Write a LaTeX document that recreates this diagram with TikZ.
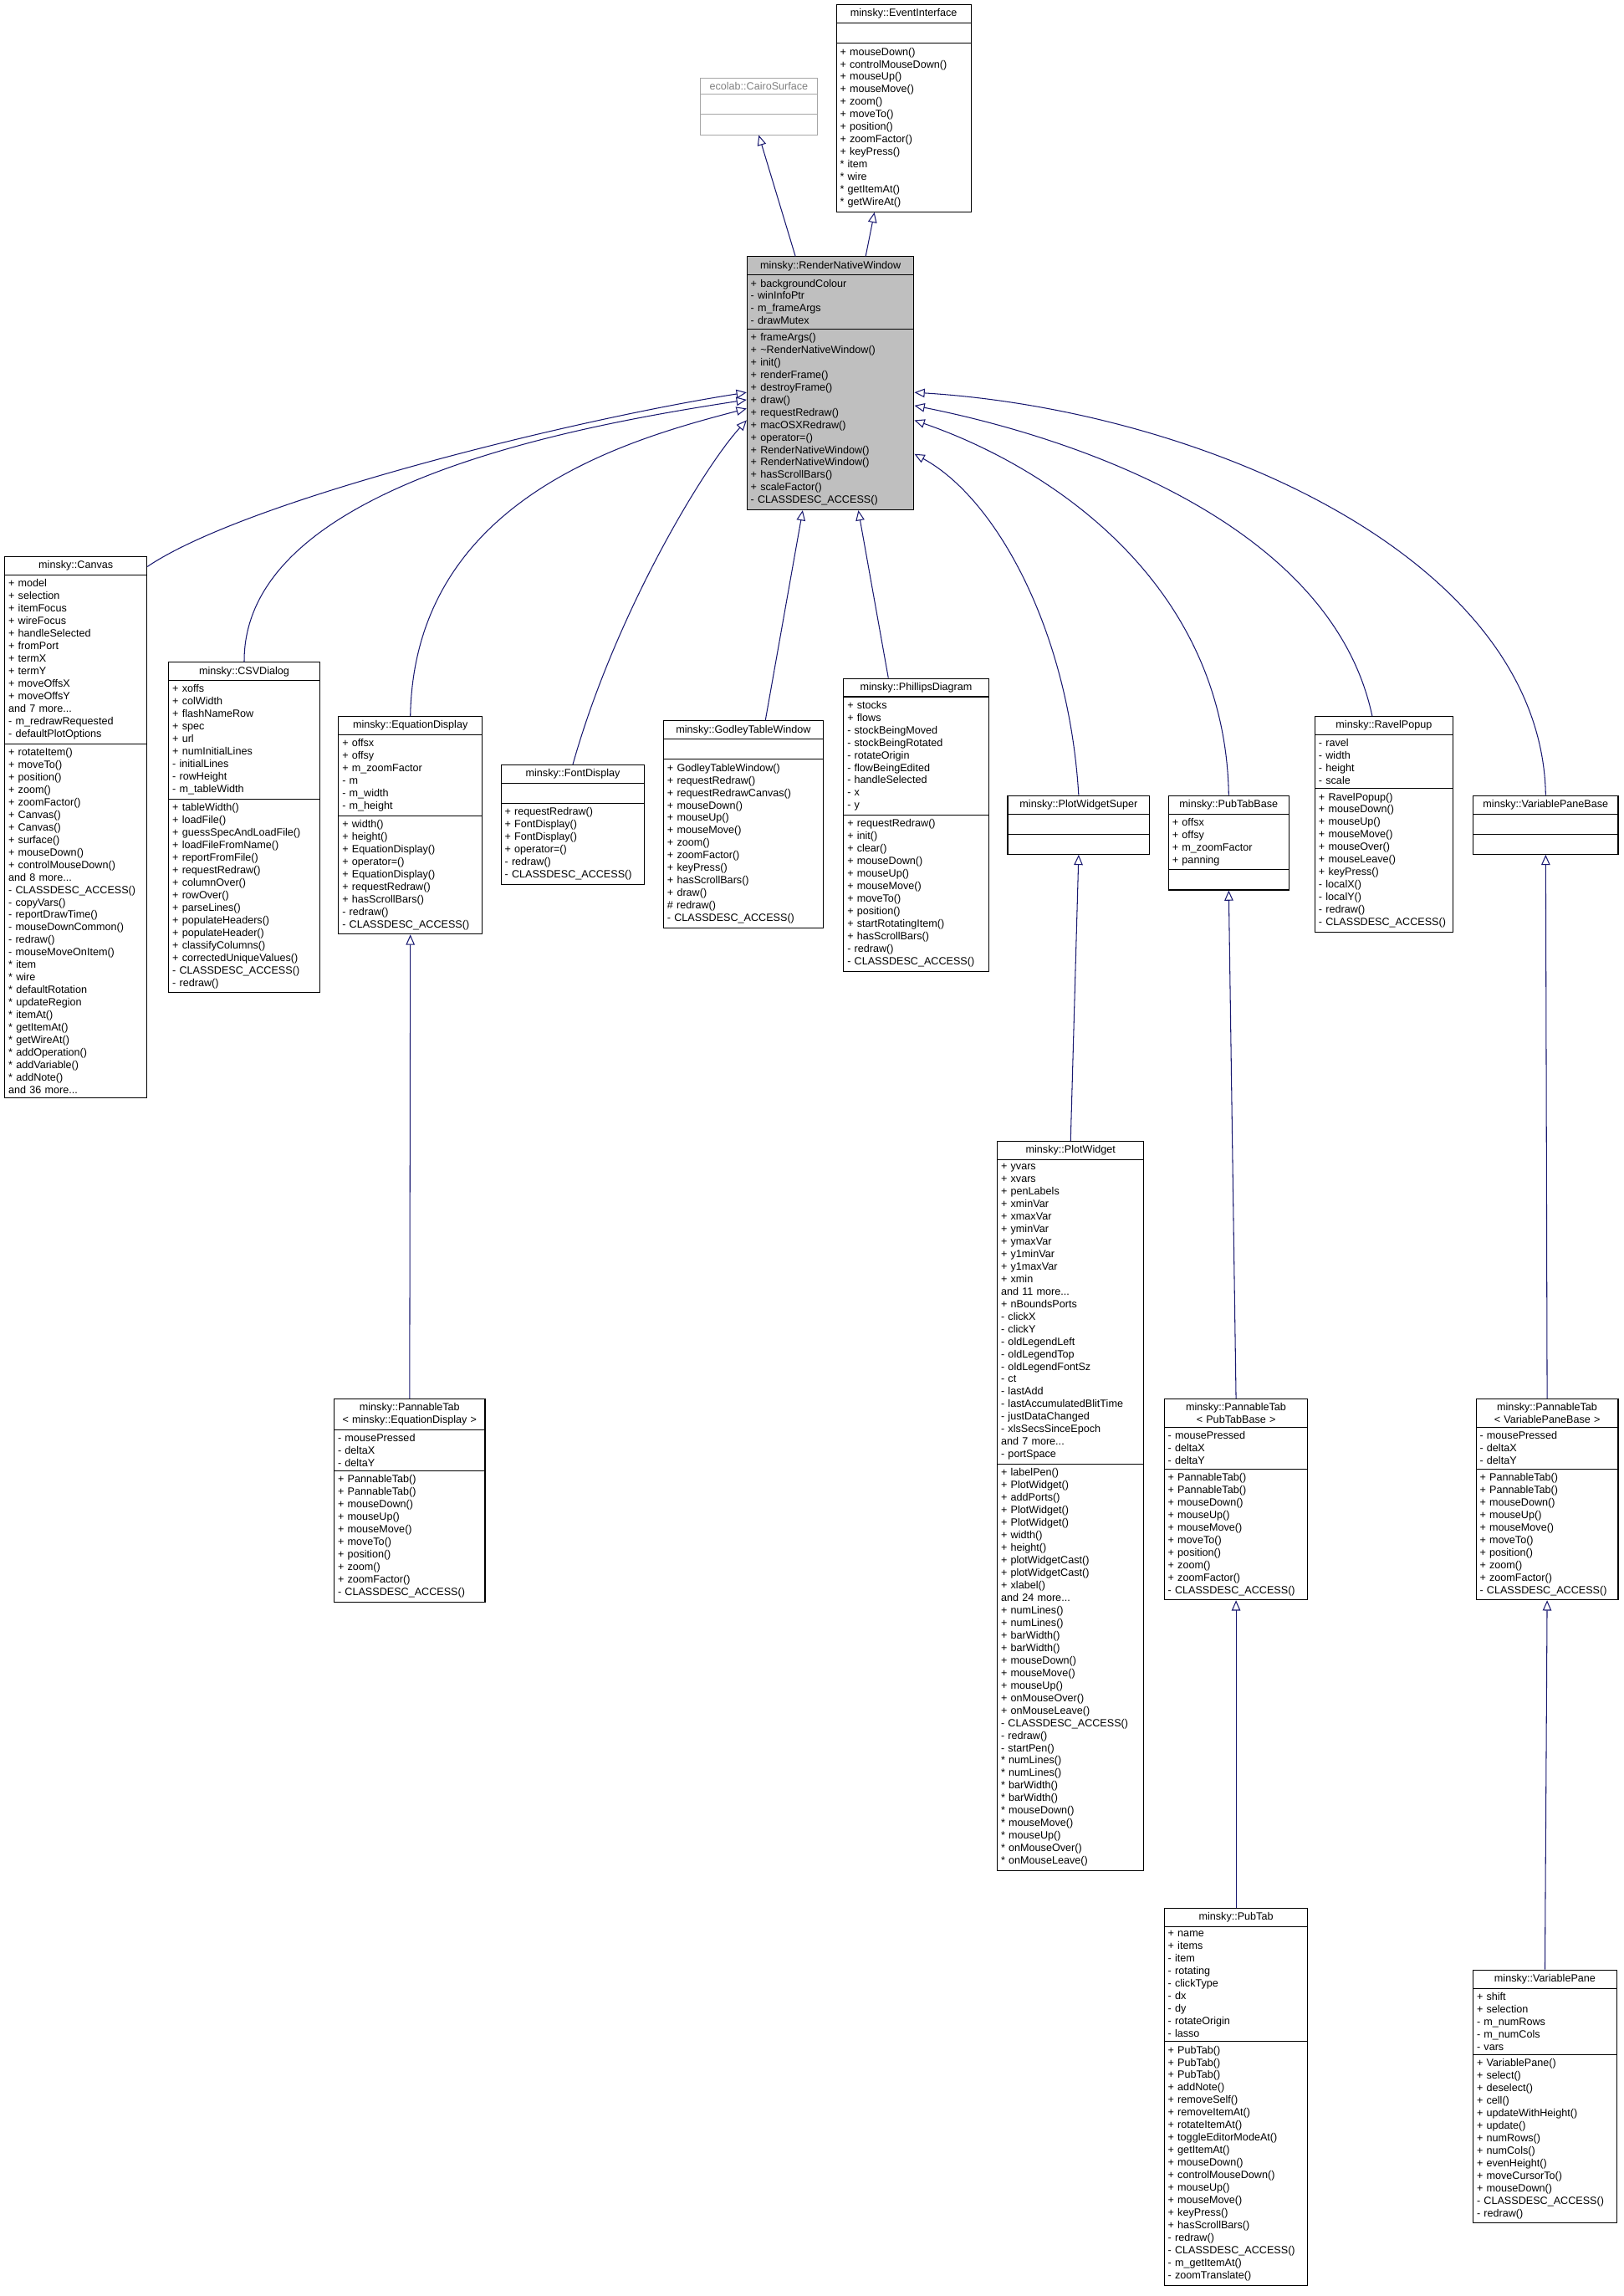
\documentclass[tikz,border=0pt]{standalone}
\usepackage{fontspec}
\setmainfont{Liberation Sans}
\usetikzlibrary{shapes.multipart,arrows.meta,calc}
\definecolor{edge}{HTML}{191970}
\tikzset{
 cbox/.style={draw=black,line width=0.6pt,rectangle split,rectangle split parts=3,anchor=north west,inner xsep=2.5pt,inner ysep=2.6pt,align=left,font=\fontsize{7.2}{8.55}\selectfont},
 inh/.style={draw=edge,line width=0.6pt,-{Triangle[open,length=7pt,width=6pt]}}
}
\newcommand\cls[8]{\node[cbox,#5,text width=#4pt] (#1) at (#2,#3) {{\centering #6\par}\nodepart{two}#7\nodepart{three}#8};}
\def\E{\rule{0pt}{8pt}}
\def\CA{CLASSDESC\_ACCESS()}
\begin{document}
\begin{tikzpicture}[x=1pt,y=-1pt]
\useasboundingbox (0,0) rectangle (1109,1568);
\cls{cairo}{478}{53}{75}{draw=gray!70,text=gray}{ecolab::CairoSurface}{\E}{\E}
\cls{ev}{571}{3}{87}{}{minsky::EventInterface}{\E}{+ mouseDown()\\+ controlMouseDown()\\+ mouseUp()\\+ mouseMove()\\+ zoom()\\+ moveTo()\\+ position()\\+ zoomFactor()\\+ keyPress()\\{}* item\\{}* wire\\{}* getItemAt()\\{}* getWireAt()}
\cls{rnw}{510}{175}{109}{fill=black!25}{minsky::RenderNativeWindow}{+ backgroundColour\\- winInfoPtr\\- m\_frameArgs\\- drawMutex}{+ frameArgs()\\+ \textasciitilde RenderNativeWindow()\\+ init()\\+ renderFrame()\\+ destroyFrame()\\+ draw()\\+ requestRedraw()\\+ macOSXRedraw()\\+ operator=()\\+ RenderNativeWindow()\\+ RenderNativeWindow()\\+ hasScrollBars()\\+ scaleFactor()\\- \CA}
\cls{canvas}{3}{380}{92}{}{minsky::Canvas}{+ model\\+ selection\\+ itemFocus\\+ wireFocus\\+ handleSelected\\+ fromPort\\+ termX\\+ termY\\+ moveOffsX\\+ moveOffsY\\and 7 more...\\- m\_redrawRequested\\- defaultPlotOptions}{+ rotateItem()\\+ moveTo()\\+ position()\\+ zoom()\\+ zoomFactor()\\+ Canvas()\\+ Canvas()\\+ surface()\\+ mouseDown()\\+ controlMouseDown()\\and 8 more...\\- \CA\\- copyVars()\\- reportDrawTime()\\- mouseDownCommon()\\- redraw()\\- mouseMoveOnItem()\\{}* item\\{}* wire\\{}* defaultRotation\\{}* updateRegion\\{}* itemAt()\\{}* getItemAt()\\{}* getWireAt()\\{}* addOperation()\\{}* addVariable()\\{}* addNote()\\and 36 more...}
\cls{csv}{115}{452}{98}{}{minsky::CSVDialog}{+ xoffs\\+ colWidth\\+ flashNameRow\\+ spec\\+ url\\+ numInitialLines\\- initialLines\\- rowHeight\\- m\_tableWidth}{+ tableWidth()\\+ loadFile()\\+ guessSpecAndLoadFile()\\+ loadFileFromName()\\+ reportFromFile()\\+ requestRedraw()\\+ columnOver()\\+ rowOver()\\+ parseLines()\\+ populateHeaders()\\+ populateHeader()\\+ classifyColumns()\\+ correctedUniqueValues()\\- \CA\\- redraw()}
\cls{eq}{231}{489}{93}{}{minsky::EquationDisplay}{+ offsx\\+ offsy\\+ m\_zoomFactor\\- m\\- m\_width\\- m\_height}{+ width()\\+ height()\\+ EquationDisplay()\\+ operator=()\\+ EquationDisplay()\\+ requestRedraw()\\+ hasScrollBars()\\- redraw()\\- \CA}
\cls{font}{342}{522}{93}{}{minsky::FontDisplay}{\E}{+ requestRedraw()\\+ FontDisplay()\\+ FontDisplay()\\+ operator=()\\- redraw()\\- \CA}
\cls{god}{453}{492}{104}{}{minsky::GodleyTableWindow}{\E}{+ GodleyTableWindow()\\+ requestRedraw()\\+ requestRedrawCanvas()\\+ mouseDown()\\+ mouseUp()\\+ mouseMove()\\+ zoom()\\+ zoomFactor()\\+ keyPress()\\+ hasScrollBars()\\+ draw()\\\# redraw()\\- \CA}
\cls{phil}{576}{463}{94}{}{minsky::PhillipsDiagram}{+ stocks\\+ flows\\- stockBeingMoved\\- stockBeingRotated\\- rotateOrigin\\- flowBeingEdited\\- handleSelected\\- x\\- y}{+ requestRedraw()\\+ init()\\+ clear()\\+ mouseDown()\\+ mouseUp()\\+ mouseMove()\\+ moveTo()\\+ position()\\+ startRotatingItem()\\+ hasScrollBars()\\- redraw()\\- \CA}
\cls{pws}{688}{543}{92}{}{minsky::PlotWidgetSuper}{\E}{\E}
\cls{ptb}{798}{543}{77}{}{minsky::PubTabBase}{+ offsx\\+ offsy\\+ m\_zoomFactor\\+ panning}{\E}
\cls{ravel}{898}{489}{89}{}{minsky::RavelPopup}{- ravel\\- width\\- height\\- scale}{+ RavelPopup()\\+ mouseDown()\\+ mouseUp()\\+ mouseMove()\\+ mouseOver()\\+ mouseLeave()\\+ keyPress()\\- localX()\\- localY()\\- redraw()\\- \CA}
\cls{vpb}{1006}{543}{94}{}{minsky::VariablePaneBase}{\E}{\E}
\def\PT{- mousePressed\\- deltaX\\- deltaY}
\def\PM{+ PannableTab()\\+ PannableTab()\\+ mouseDown()\\+ mouseUp()\\+ mouseMove()\\+ moveTo()\\+ position()\\+ zoom()\\+ zoomFactor()\\- \CA}
\cls{pteq}{228}{955}{98}{}{minsky::PannableTab\\\textless{} minsky::EquationDisplay \textgreater}{\PT}{\PM}
\cls{ptpub}{795}{955}{93}{}{minsky::PannableTab\\\textless{} PubTabBase \textgreater}{\PT}{\PM}
\cls{ptvp}{1008}{955}{92}{}{minsky::PannableTab\\\textless{} VariablePaneBase \textgreater}{\PT}{\PM}
\cls{pw}{681}{779}{95}{}{minsky::PlotWidget}{+ yvars\\+ xvars\\+ penLabels\\+ xminVar\\+ xmaxVar\\+ yminVar\\+ ymaxVar\\+ y1minVar\\+ y1maxVar\\+ xmin\\and 11 more...\\+ nBoundsPorts\\- clickX\\- clickY\\- oldLegendLeft\\- oldLegendTop\\- oldLegendFontSz\\- ct\\- lastAdd\\- lastAccumulatedBlitTime\\- justDataChanged\\- xlsSecsSinceEpoch\\and 7 more...\\- portSpace}{+ labelPen()\\+ PlotWidget()\\+ addPorts()\\+ PlotWidget()\\+ PlotWidget()\\+ width()\\+ height()\\+ plotWidgetCast()\\+ plotWidgetCast()\\+ xlabel()\\and 24 more...\\+ numLines()\\+ numLines()\\+ barWidth()\\+ barWidth()\\+ mouseDown()\\+ mouseMove()\\+ mouseUp()\\+ onMouseOver()\\+ onMouseLeave()\\- \CA\\- redraw()\\- startPen()\\{}* numLines()\\{}* numLines()\\{}* barWidth()\\{}* barWidth()\\{}* mouseDown()\\{}* mouseMove()\\{}* mouseUp()\\{}* onMouseOver()\\{}* onMouseLeave()}
\cls{pub}{795}{1303}{93}{}{minsky::PubTab}{+ name\\+ items\\- item\\- rotating\\- clickType\\- dx\\- dy\\- rotateOrigin\\\mbox{-}\ lasso}{+ PubTab()\\+ PubTab()\\+ PubTab()\\+ addNote()\\+ removeSelf()\\+ removeItemAt()\\+ rotateItemAt()\\+ toggleEditorModeAt()\\+ getItemAt()\\+ mouseDown()\\+ controlMouseDown()\\+ mouseUp()\\+ mouseMove()\\+ keyPress()\\+ hasScrollBars()\\- redraw()\\- \CA\\- m\_getItemAt()\\- zoomTranslate()}
\cls{vp}{1006}{1345}{93}{}{minsky::VariablePane}{+ shift\\+ selection\\- m\_numRows\\- m\_numCols\\- vars}{+ VariablePane()\\+ select()\\+ deselect()\\+ cell()\\+ updateWithHeight()\\+ update()\\+ numRows()\\+ numCols()\\+ evenHeight()\\+ moveCursorTo()\\+ mouseDown()\\- \CA\\- redraw()}
% edges
\draw[inh] ($(rnw.north)+(-24,0)$) -- (cairo.south);
\draw[inh] ($(rnw.north)+(24,0)$) -- ($(ev.south)+(-20,0)$);
\draw[inh] ($(canvas.north east)+(0,7)$) .. controls (170,340) and (400,285) .. ($(rnw.north west)+(0,93)$);
\draw[inh] (csv.north) .. controls (166,330) and (400,290) .. ($(rnw.north west)+(0,98)$);
\draw[inh] (eq.north) .. controls (283,340) and (430,300) .. ($(rnw.north west)+(0,104)$);
\draw[inh] (font.north) .. controls (420,420) and (480,320) .. ($(rnw.north west)+(0,112)$);
\draw[inh] ($(god.north)+(15,0)$) -- ($(rnw.south)+(-19,0)$);
\draw[inh] ($(phil.north)+(-19,0)$) -- ($(rnw.south)+(19,0)$);
\draw[inh] (pws.north) .. controls (730,430) and (680,340) .. ($(rnw.north east)+(0,135)$);
\draw[inh] (ptb.north) .. controls (837,400) and (720,320) .. ($(rnw.north east)+(0,112)$);
\draw[inh] ($(ravel.north)+(-8,0)$) .. controls (910,360) and (740,300) .. ($(rnw.north east)+(0,102)$);
\draw[inh] (vpb.north) .. controls (1053,380) and (820,280) .. ($(rnw.north east)+(0,93)$);
\draw[inh] (pteq.north) -- (eq.south);
\draw[inh] (pw.north) -- (pws.south);
\draw[inh] (ptpub.north) -- (ptb.south);
\draw[inh] (pub.north) -- (ptpub.south);
\draw[inh] (ptvp.north) -- (vpb.south);
\draw[inh] (vp.north) -- (ptvp.south);
\end{tikzpicture}
\end{document}
